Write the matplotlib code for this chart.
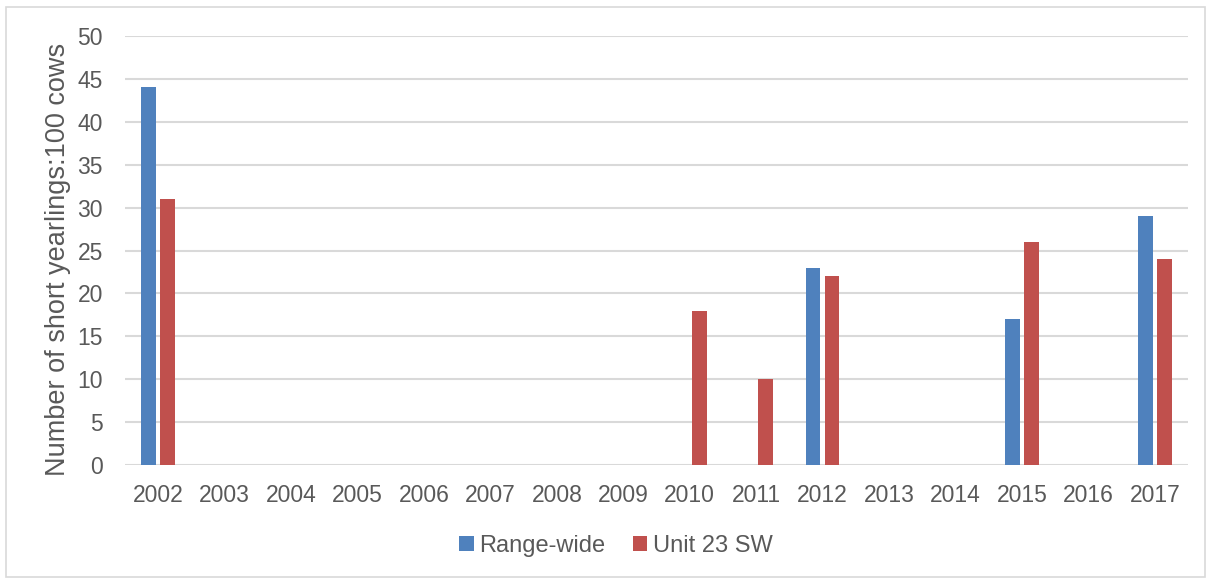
import matplotlib.pyplot as plt
import numpy as np

plt.rcParams['font.family'] = ['Liberation Sans', 'DejaVu Sans']

# Short yearlings per 100 cows by year (NaN = no survey that year)
years = ['2002', '2003', '2004', '2005', '2006', '2007', '2008', '2009',
         '2010', '2011', '2012', '2013', '2014', '2015', '2016', '2017']
range_wide = [44, np.nan, np.nan, np.nan, np.nan, np.nan, np.nan, np.nan,
              np.nan, np.nan, 23, np.nan, np.nan, 17, np.nan, 29]
unit_23_sw = [31, np.nan, np.nan, np.nan, np.nan, np.nan, np.nan, np.nan,
              18, 10, 22, np.nan, np.nan, 26, np.nan, 24]

blue = '#4F81BD'
red = '#C0504D'
grey = '#595959'

fig = plt.figure(figsize=(12.11, 5.78), dpi=100)
ax = fig.add_axes([125 / 1211, 1 - 465 / 578, 1063 / 1211, 429 / 578])

x = np.arange(len(years))
w = 0.22
off = 0.143
ax.bar(x - off, range_wide, w, color=blue, label='Range-wide', zorder=3)
ax.bar(x + off, unit_23_sw, w, color=red, label='Unit 23 SW', zorder=3)

ax.set_xlim(-0.5, len(years) - 0.5)
ax.set_ylim(0, 50)
ax.set_yticks(range(0, 51, 5))
ax.set_xticks(x)
ax.set_xticklabels(years)
ax.grid(axis='y', color='#D9D9D9', linewidth=1.5, zorder=0)
for s in ax.spines.values():
    s.set_visible(False)
ax.tick_params(length=0, labelsize=16.5, colors=grey)
ax.tick_params(axis='y', pad=16)
ax.tick_params(axis='x', pad=14)
ax.set_ylabel('Number of short yearlings:100 cows', fontsize=19.5, color=grey)
ax.yaxis.set_label_coords(-0.0505, 0.48)

fig.legend(handles=ax.get_legend_handles_labels()[0], loc='center',
           bbox_to_anchor=(616 / 1211, 1 - 546 / 578), ncol=2, frameon=False,
           fontsize=17, labelcolor=grey, handlelength=0.6, handleheight=0.6,
           columnspacing=1.15, handletextpad=0.25)

# thin frame around the whole chart
fig.patches.append(plt.Rectangle((6 / 1211, 0.002), 1199 / 1211, 1 - 8 / 578,
                                 transform=fig.transFigure, fill=False,
                                 edgecolor='#D9D9D9', linewidth=1.2))

fig.savefig('out.png', dpi=100)
